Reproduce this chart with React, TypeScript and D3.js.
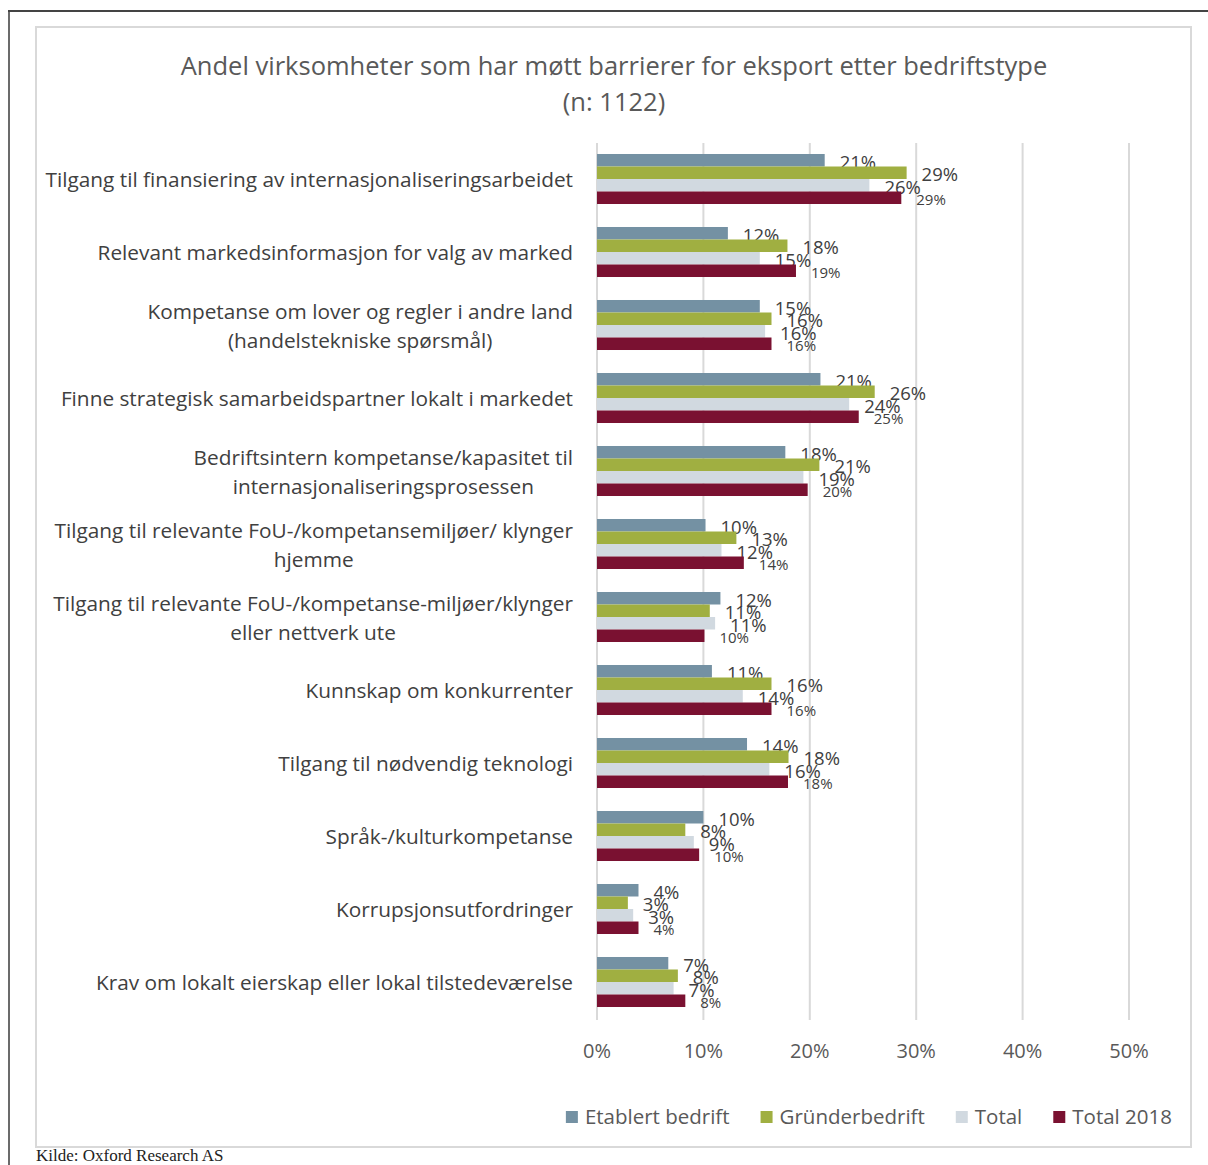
import React, { useEffect, useRef } from "react";
import * as d3 from "d3";

const categories: string[][] = [
  ["Tilgang til finansiering av internasjonaliseringsarbeidet"],
  ["Relevant markedsinformasjon for valg av marked"],
  ["Kompetanse om lover og regler i andre land", "(handelstekniske spørsmål)"],
  ["Finne strategisk samarbeidspartner lokalt i markedet"],
  ["Bedriftsintern kompetanse/kapasitet til", "internasjonaliseringsprosessen"],
  ["Tilgang til relevante FoU-/kompetansemiljøer/ klynger", "hjemme"],
  ["Tilgang til relevante FoU-/kompetanse-miljøer/klynger", "eller nettverk ute"],
  ["Kunnskap om konkurrenter"],
  ["Tilgang til nødvendig teknologi"],
  ["Språk-/kulturkompetanse"],
  ["Korrupsjonsutfordringer"],
  ["Krav om lokalt eierskap eller lokal tilstedeværelse"],
];

const seriesNames = ["Etablert bedrift", "Gründerbedrift", "Total", "Total 2018"];

const etablert = [21.4, 12.3, 15.3, 21.0, 17.7, 10.2, 11.6, 10.8, 14.1, 10.0, 3.9, 6.7];
const grunder = [29.1, 17.9, 16.4, 26.1, 20.9, 13.1, 10.6, 16.4, 18.0, 8.3, 2.9, 7.6];
const total = [25.6, 15.3, 15.8, 23.7, 19.4, 11.7, 11.1, 13.7, 16.2, 9.1, 3.4, 7.2];
const total2018 = [28.6, 18.7, 16.4, 24.6, 19.8, 13.8, 10.1, 16.4, 17.95, 9.6, 3.9, 8.3];

const xTicks = [0, 10, 20, 30, 40, 50];

const colors = ["#7491A3", "#A0AF41", "#D1D9E0", "#7A1131"];

const FONT = "'Open Sans', sans-serif";

export default function App() {
  const ref = useRef<SVGSVGElement | null>(null);

  useEffect(() => {
    const svg = d3.select(ref.current);
    svg.selectAll("*").remove();

    const allSeries = [etablert, grunder, total, total2018];

    // frames
    svg.append("line").attr("x1", 9).attr("x2", 9).attr("y1", 10).attr("y2", 1165)
      .attr("stroke", "#6b6b6b").attr("stroke-width", 2);
    svg.append("line").attr("x1", 8).attr("x2", 1208).attr("y1", 11).attr("y2", 11)
      .attr("stroke", "#444").attr("stroke-width", 2);
    svg.append("rect").attr("x", 36).attr("y", 27).attr("width", 1155).attr("height", 1120)
      .attr("fill", "#fff").attr("stroke", "#d9d9d9").attr("stroke-width", 2);

    // title
    const title = svg.append("text").attr("text-anchor", "middle").attr("fill", "#595959")
      .attr("font-family", FONT).attr("font-size", 25.5);
    title.append("tspan").attr("x", 614).attr("y", 75)
      .text("Andel virksomheter som har møtt barrierer for eksport etter bedriftstype");
    title.append("tspan").attr("x", 614).attr("y", 111).text("(n: 1122)");

    const x = d3.scaleLinear().domain([0, 50]).range([597, 1129]);
    const y = d3.scaleBand<number>().domain(d3.range(categories.length))
      .range([142.5, 1018.5]).paddingInner(0.315).paddingOuter(0.1575);
    const yi = d3.scaleBand<number>().domain(d3.range(4)).range([0, y.bandwidth()]);

    // grid
    svg.append("g").selectAll("line").data(xTicks).join("line")
      .attr("x1", (d) => x(d)).attr("x2", (d) => x(d))
      .attr("y1", 143).attr("y2", 1020)
      .attr("stroke", "#d9d9d9").attr("stroke-width", 2);

    // tick labels
    svg.append("g").selectAll("text").data(xTicks).join("text")
      .attr("x", (d) => x(d)).attr("y", 1051).attr("dy", "0.35em")
      .attr("text-anchor", "middle").attr("fill", "#595959")
      .attr("font-family", FONT).attr("font-size", 20)
      .text((d) => `${d}%`);

    // bars
    allSeries.forEach((vals, s) => {
      const g = svg.append("g");
      g.selectAll("rect").data(vals).join("rect")
        .attr("x", x(0)).attr("y", (_d, i) => (y(i) as number) + (yi(s) as number))
        .attr("width", (d) => x(d) - x(0)).attr("height", yi.bandwidth())
        .attr("fill", colors[s]);
      g.selectAll("text").data(vals).join("text")
        .attr("x", (d) => x(d) + 15)
        .attr("y", (_d, i) => (y(i) as number) + (yi(s) as number) + yi.bandwidth() / 2 + 2)
        .attr("dy", "0.35em")
        .attr("fill", "#404040").attr("font-family", FONT)
        .attr("font-size", s === 3 ? 15 : 18.5)
        .text((d) => `${Math.round(d)}%`);
    });

    // category labels
    categories.forEach((lines, i) => {
      const cy = (y(i) as number) + y.bandwidth() / 2 + 1;
      const g = svg.append("g");
      const texts = lines.map((l) =>
        g.append("text").attr("fill", "#404040").attr("font-family", FONT)
          .attr("font-size", 20.8).attr("text-anchor", "middle").attr("dy", "0.35em").text(l)
      );
      const widths = texts.map((t) => (t.node() as SVGTextElement).getComputedTextLength());
      const maxW = Math.max(...widths);
      const cx = 573 - maxW / 2;
      const n = lines.length;
      texts.forEach((t, k) => {
        t.attr("x", cx).attr("y", cy + (k - (n - 1) / 2) * 29);
      });
    });

    // legend
    const lg = svg.append("g");
    const items = seriesNames.map((name, s) => {
      const gi = lg.append("g");
      gi.append("rect").attr("width", 12).attr("height", 12).attr("y", -6).attr("fill", colors[s]);
      const t = gi.append("text").attr("x", 19).attr("dy", "0.35em").attr("fill", "#595959")
        .attr("font-family", FONT).attr("font-size", 20.5).text(name);
      const w = 19 + (t.node() as SVGTextElement).getComputedTextLength();
      return { gi, w };
    });
    const gap = 31;
    const totalW = d3.sum(items, (d) => d.w) + gap * (items.length - 1);
    let cur = 1172 - totalW;
    items.forEach(({ gi, w }) => {
      gi.attr("transform", `translate(${cur},1117)`);
      cur += w + gap;
    });

    // footnote
    svg.append("text").attr("x", 36).attr("y", 1161).attr("fill", "#222")
      .attr("font-family", "'Liberation Serif', serif").attr("font-size", 17)
      .text("Kilde: Oxford Research AS");
  }, []);

  return (
    <svg
      ref={ref}
      width={1208}
      height={1165}
      style={{ position: "absolute", left: 0, top: 0, background: "#fff" }}
    />
  );
}
